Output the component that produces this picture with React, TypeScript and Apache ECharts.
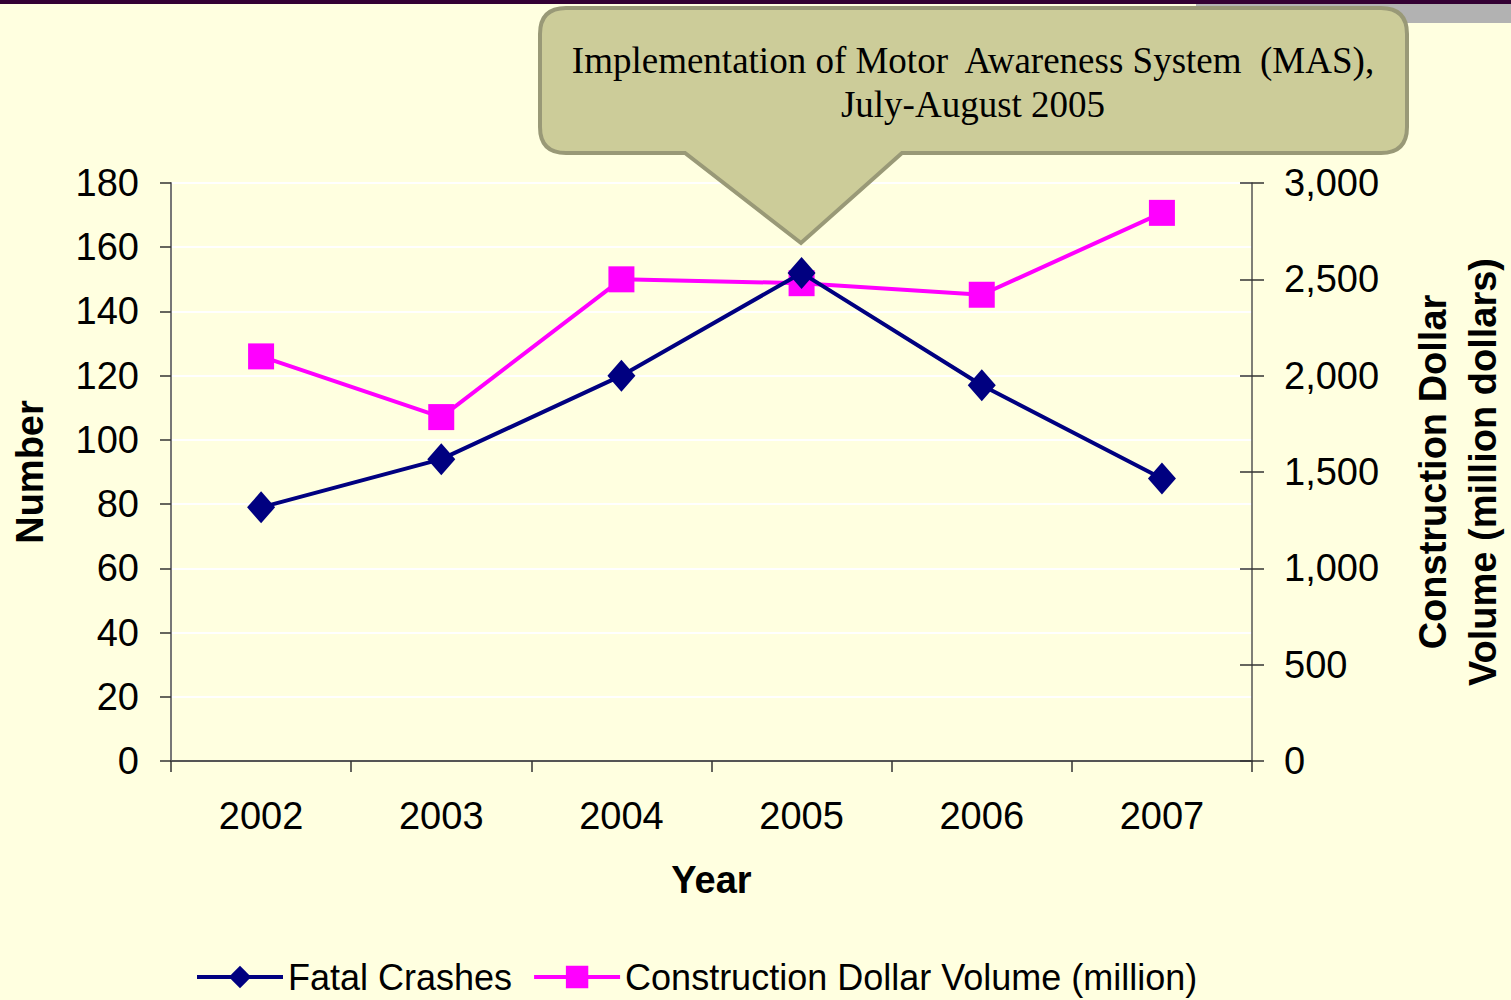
import React, { useEffect, useRef } from "react";
import * as echarts from "echarts";

const years = ["2002", "2003", "2004", "2005", "2006", "2007"];
const fatalCrashes = [79, 94, 120, 152, 117, 88];
const constructionVolume = [2100, 1785, 2500, 2480, 2420, 2845];
const leftTicks = { min: 0, max: 180, interval: 20 };
const rightTicks = { min: 0, max: 3000, interval: 500 };
const calloutLines = [
  "Implementation of Motor  Awareness System  (MAS),",
  "July-August 2005",
];

const SANS = "Arial, 'Liberation Sans', sans-serif";
const SERIF = "'Times New Roman', 'Liberation Serif', serif";
const FS = 38;

const calloutPath =
  "M 566 8 H 1381 Q 1407 8 1407 34 V 127 Q 1407 153 1381 153 H 902 L 801 243 L 685 153 H 566 Q 540 153 540 127 V 34 Q 540 8 566 8 Z";

export default function App() {
  const ref = useRef<HTMLDivElement>(null);
  useEffect(() => {
    if (!ref.current) return;
    echarts.graphic.registerShape(
      "callout",
      echarts.graphic.extendPath(calloutPath, {})
    );
    const chart = echarts.init(ref.current, null, { renderer: "svg" });
    const fmt = (v: number) => v.toLocaleString("en-US");
    chart.setOption({
      animation: false,
      backgroundColor: "#FFFFE0",
      grid: {
        left: 171,
        right: 259,
        top: 183,
        bottom: 239,
        containLabel: false,
        outerBoundsMode: "none",
      },
      legend: {
        left: 190,
        top: 954,
        itemWidth: 86,
        itemHeight: 28,
        itemGap: 20,
        textStyle: { fontSize: 36, fontFamily: SANS, color: "#000", lineHeight: 34 },
        data: [
          { name: "Fatal Crashes", lineStyle: { width: 4, color: "#000080" } },
          {
            name: "Construction Dollar Volume (million)",
            lineStyle: { width: 4, color: "#FF00FF" },
          },
        ],
      },
      xAxis: {
        type: "category",
        data: years,
        boundaryGap: true,
        name: "Year",
        nameLocation: "middle",
        nameGap: 100,
        nameTextStyle: { fontSize: FS, fontWeight: "bold", fontFamily: SANS, color: "#000" },
        axisLine: { lineStyle: { color: "#555", width: 2 } },
        axisTick: { show: true, length: 11, lineStyle: { color: "#333", width: 1.5 } },
        axisLabel: { fontSize: FS, fontFamily: SANS, color: "#000", margin: 36 },
        splitLine: { show: false },
      },
      yAxis: [
        {
          type: "value",
          position: "left",
          ...leftTicks,
          name: "Number",
          nameLocation: "middle",
          nameGap: 122,
          nameTextStyle: { fontSize: FS, fontWeight: "bold", fontFamily: SANS, color: "#000" },
          axisLine: { show: true, lineStyle: { color: "#777", width: 2 } },
          axisTick: { show: true, length: 11, lineStyle: { color: "#333", width: 1.5 } },
          axisLabel: { fontSize: FS, fontFamily: SANS, color: "#000", margin: 32 },
          splitLine: { show: true, lineStyle: { color: "#FFFFFF", width: 2 } },
        },
        {
          type: "value",
          position: "right",
          ...rightTicks,
          name: "Construction Dollar\nVolume (million dollars)",
          nameLocation: "middle",
          nameGap: 156,
          nameTextStyle: {
            fontSize: FS,
            fontWeight: "bold",
            fontFamily: SANS,
            color: "#000",
            lineHeight: 50,
          },
          axisLine: { show: true, lineStyle: { color: "#555", width: 1.5 } },
          axisTick: { show: true, length: 12, lineStyle: { color: "#333", width: 1.5 } },
          axisLabel: {
            fontSize: FS,
            fontFamily: SANS,
            color: "#000",
            margin: 32,
            formatter: fmt,
          },
          splitLine: { show: false },
        },
        {
          type: "value",
          position: "right",
          ...rightTicks,
          axisLine: { show: false },
          axisTick: { show: true, inside: true, length: 12, lineStyle: { color: "#333", width: 1.5 } },
          axisLabel: { show: false },
          splitLine: { show: false },
        },
      ],
      series: [
        {
          name: "Fatal Crashes",
          type: "line",
          yAxisIndex: 0,
          data: fatalCrashes,
          symbol: "diamond",
          symbolSize: [28, 32],
          lineStyle: { color: "#000080", width: 4 },
          itemStyle: { color: "#000080" },
          z: 3,
        },
        {
          name: "Construction Dollar Volume (million)",
          type: "line",
          yAxisIndex: 1,
          data: constructionVolume,
          symbol: "rect",
          symbolSize: 26,
          lineStyle: { color: "#FF00FF", width: 4 },
          itemStyle: { color: "#FF00FF" },
          z: 2,
        },
      ],
      graphic: [
        {
          type: "rect",
          left: 0,
          top: 0,
          shape: { width: 1511, height: 4 },
          style: { fill: "#330033" },
          z: 50,
        },
        {
          type: "rect",
          left: 1196,
          top: 4,
          shape: { width: 315, height: 19 },
          style: { fill: "#B2B2B2" },
          z: 49,
        },
        {
          type: "callout",
          x: 0,
          y: 0,
          style: { fill: "#CCCC99", stroke: "#999977", lineWidth: 4 },
          z: 60,
        },
        {
          type: "text",
          x: 973,
          y: 82,
          style: {
            text: calloutLines.join("\n"),
            font: "37px " + SERIF,
            fill: "#000",
            align: "center",
            verticalAlign: "middle",
            lineHeight: 44,
          },
          z: 61,
        },
      ],
    });
    return () => chart.dispose();
  }, []);
  return (
    <div
      ref={ref}
      style={{ position: "absolute", left: 0, top: 0, width: 1511, height: 1000 }}
    />
  );
}
